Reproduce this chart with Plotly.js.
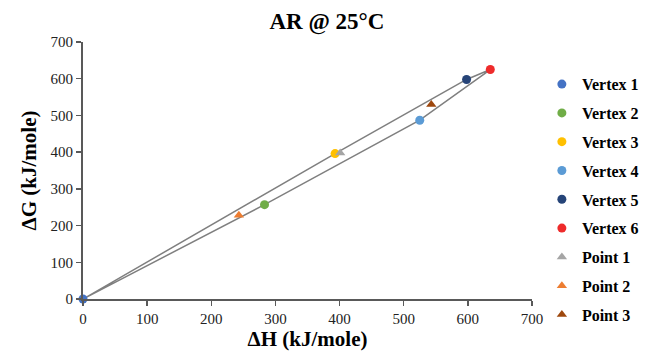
<!DOCTYPE html>
<html>
<head>
<meta charset="utf-8">
<script src="https://cdn.plot.ly/plotly-3.0.1.min.js"></script>
<style>html,body{margin:0;padding:0;background:#fff;}#chart{width:650px;height:355px;}</style>
</head>
<body>
<div id="chart"></div>
<script>
// Data
const vertexNames = ["Vertex 1", "Vertex 2", "Vertex 3", "Vertex 4", "Vertex 5", "Vertex 6"];
const vertexDH = [0, 283, 393, 525, 598, 635];
const vertexDG = [0, 257, 396, 487, 598, 625];
const vertexColors = ["#4472C4", "#70AD47", "#FFC000", "#5B9BD5", "#264478", "#EE2B2B"];

const pointNames = ["Point 1", "Point 2", "Point 3"];
const pointDH = [401, 243, 543];
const pointDG = [398, 228, 530];
const pointColors = ["#A5A5A5", "#ED7D31", "#9E480E"];

// boundary order (indices into vertex arrays)
const boundaryOrder = [0, 1, 3, 5, 4, 2, 0];

const xTicks = [0, 100, 200, 300, 400, 500, 600, 700];
const yTicks = [0, 100, 200, 300, 400, 500, 600, 700];

const serif = "Liberation Serif, Times New Roman, serif";

const traces = [];
traces.push({
  x: boundaryOrder.map(i => vertexDH[i]),
  y: boundaryOrder.map(i => vertexDG[i]),
  mode: "lines",
  type: "scatter",
  line: {color: "#7F7F7F", width: 1.5},
  showlegend: false,
  hoverinfo: "skip"
});
vertexNames.forEach((n, i) => {
  traces.push({
    x: [vertexDH[i]], y: [vertexDG[i]], name: "<b>" + n + "</b>", mode: "markers", type: "scatter",
    legendgroup: "g" + i,
    marker: {symbol: "circle", size: 9, color: vertexColors[i]},
    cliponaxis: false
  });
});
pointNames.forEach((n, i) => {
  traces.push({
    x: [pointDH[i]], y: [pointDG[i]], name: "<b>" + n + "</b>", mode: "markers", type: "scatter",
    legendgroup: "p" + i,
    marker: {symbol: "triangle-up", size: 9, color: pointColors[i]},
    cliponaxis: false
  });
});

const layout = {
  width: 650, height: 355,
  margin: {l: 83, r: 118, t: 42, b: 56, autoexpand: false},
  paper_bgcolor: "#fff", plot_bgcolor: "#fff",
  font: {family: serif, color: "#000", size: 15},
  title: {text: "<b>AR @ 25°C</b>", font: {family: serif, size: 23, color: "#000"},
          x: 0.503, xref: "container", xanchor: "center", y: 0.94, yref: "container", yanchor: "middle"},
  xaxis: {
    range: [0, 700], tickvals: xTicks, ticktext: xTicks.map(String),
    showgrid: false, zeroline: false, showline: true, linecolor: "#595959", linewidth: 2,
    ticks: "outside", ticklen: 5, tickcolor: "#595959", tickwidth: 1.5,
    tickfont: {family: serif, size: 15, color: "#222"},
    title: {text: "<b>ΔH (kJ/mole)</b>", font: {family: serif, size: 21, color: "#000"}, standoff: 4}
  },
  yaxis: {
    range: [0, 700], tickvals: yTicks, ticktext: yTicks.map(String),
    showgrid: false, zeroline: false, showline: true, linecolor: "#595959", linewidth: 2,
    ticks: "outside", ticklen: 5, tickcolor: "#595959", tickwidth: 1.5,
    tickfont: {family: serif, size: 15, color: "#222"},
    title: {text: "<b>ΔG (kJ/mole)</b>", font: {family: serif, size: 21, color: "#000"}, standoff: 8}
  },
  legend: {
    x: 1.022, xanchor: "left", y: 0.902, yanchor: "top",
    font: {family: serif, size: 16, color: "#000"},
    tracegroupgap: 5, itemwidth: 30,
    bgcolor: "rgba(0,0,0,0)"
  },
  showlegend: true
};

Plotly.newPlot("chart", traces, layout, {staticPlot: true, displayModeBar: false});
</script>
</body>
</html>
